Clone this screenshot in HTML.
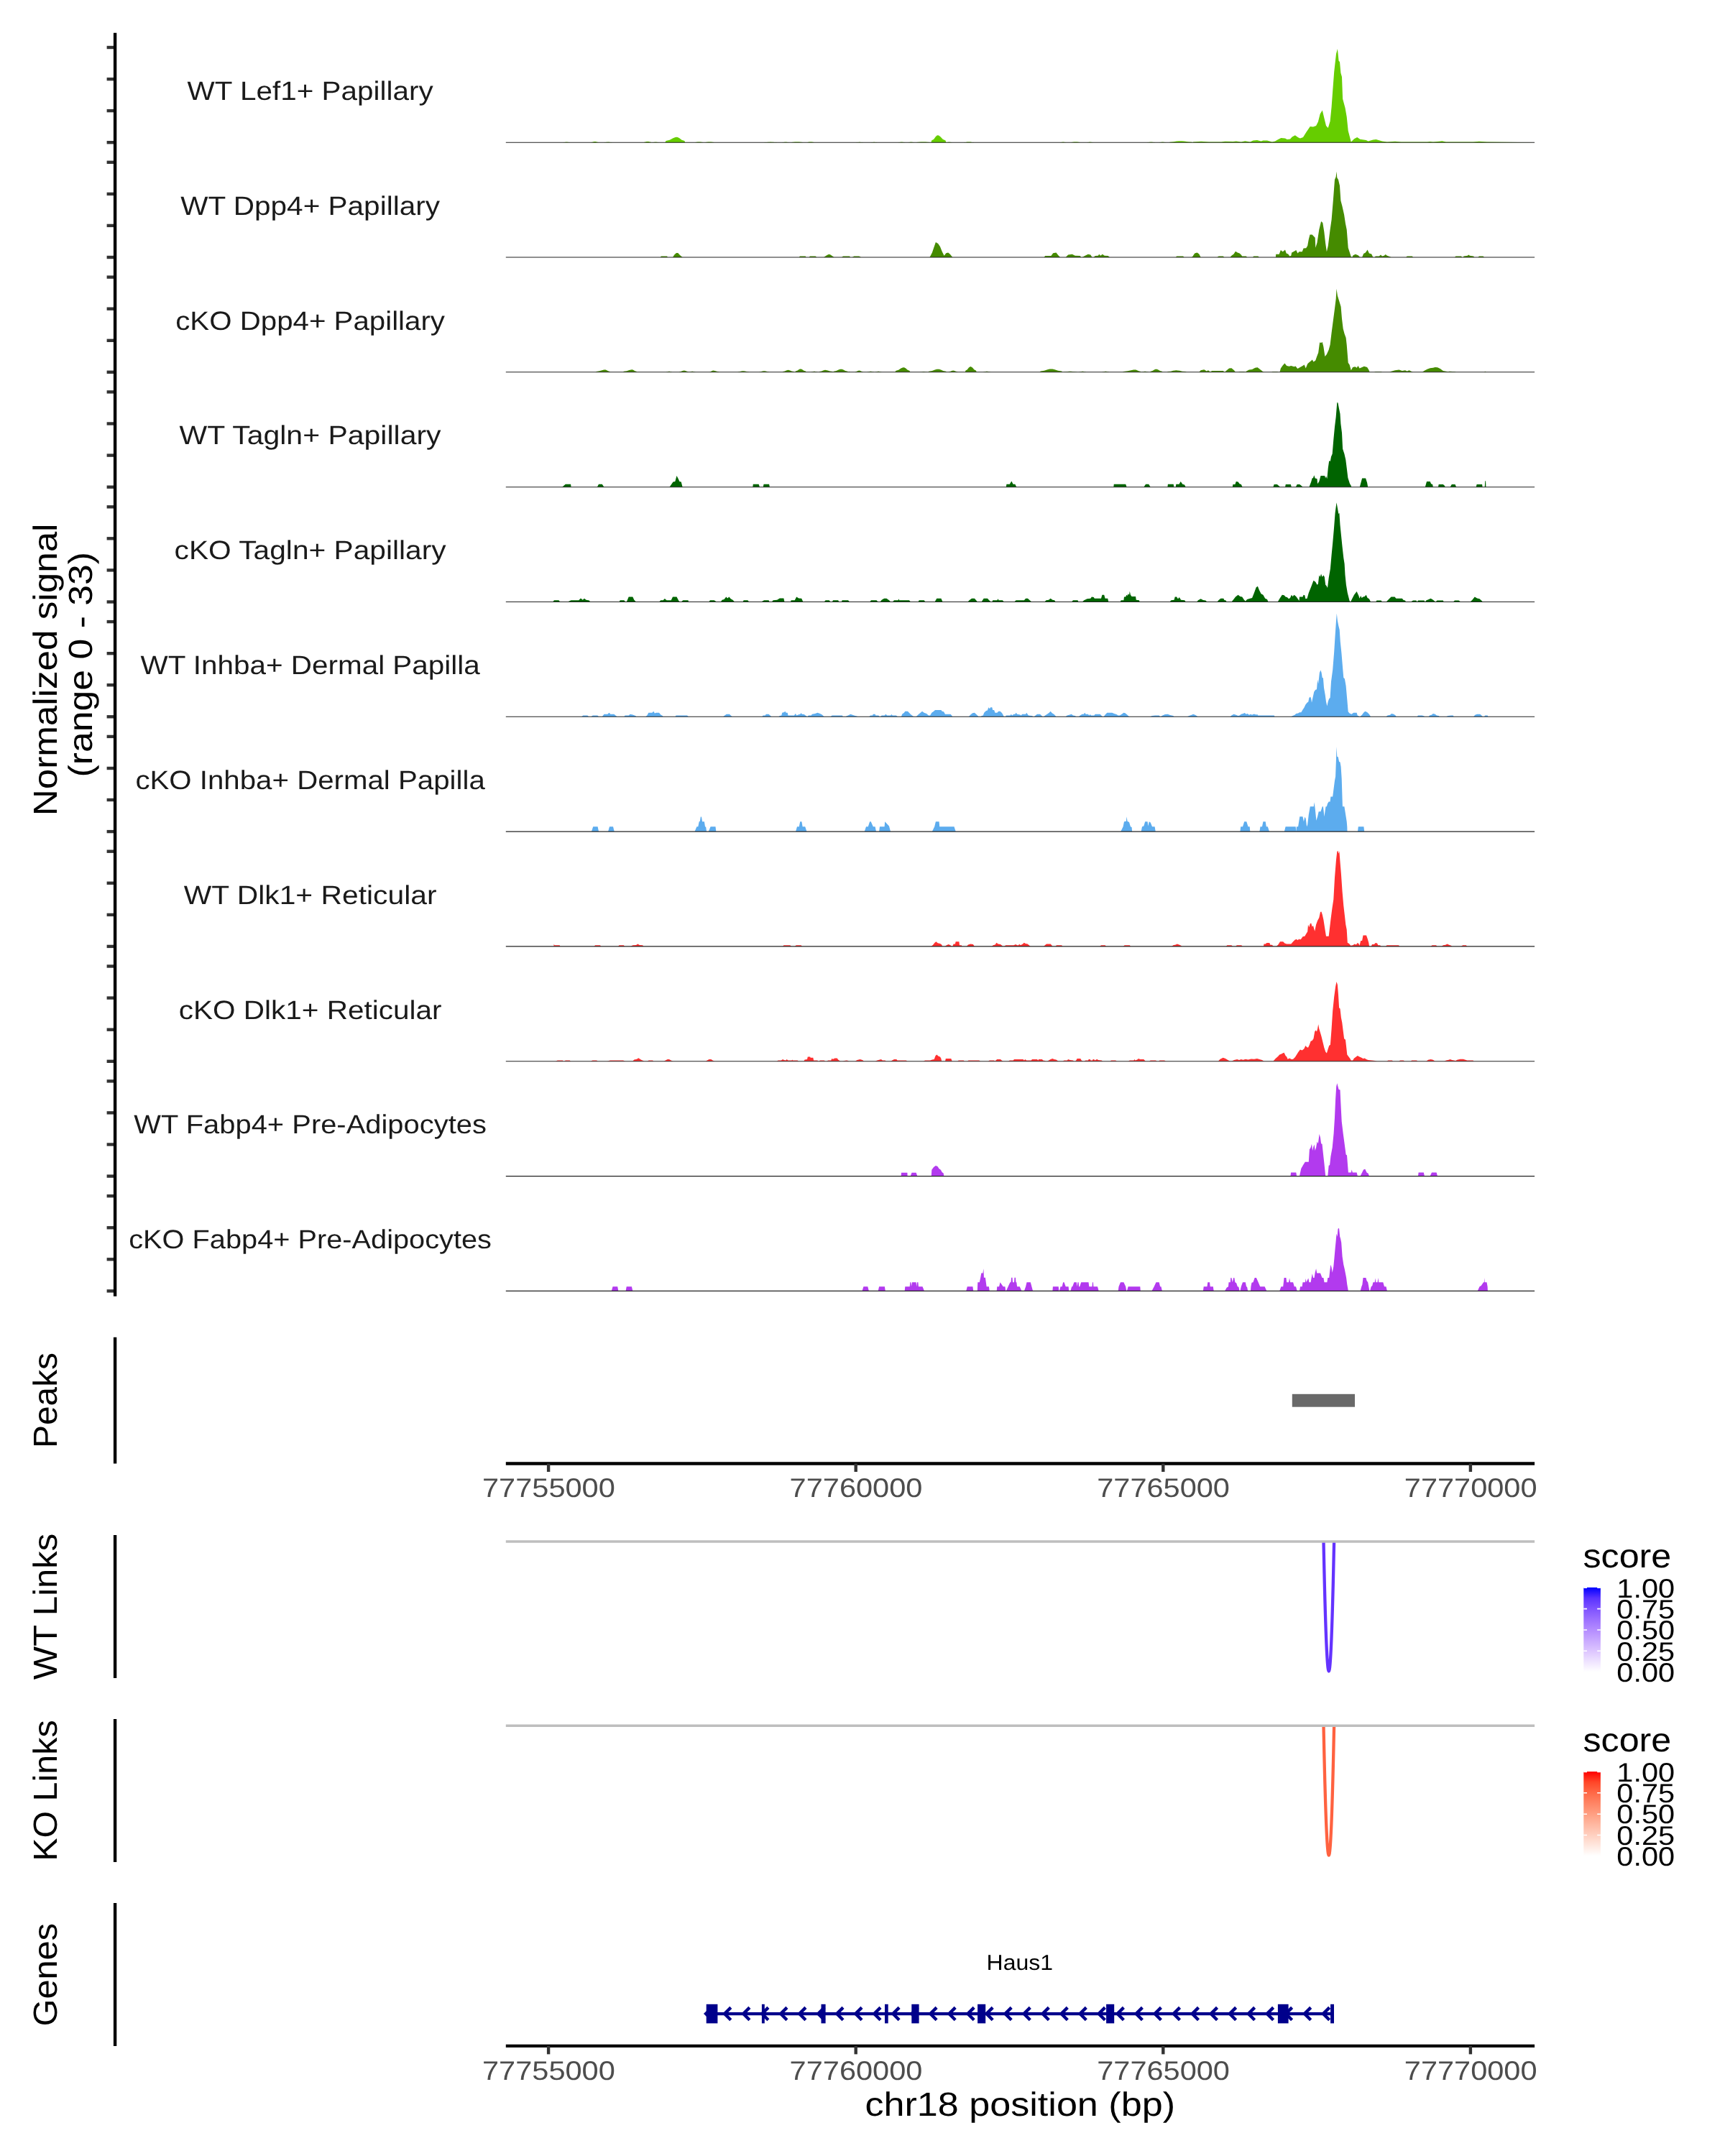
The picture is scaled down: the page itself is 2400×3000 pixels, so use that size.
<!DOCTYPE html>
<html><head><meta charset="utf-8"><title>Coverage plot</title>
<style>
html,body{margin:0;padding:0;background:#fff;}
svg{display:block;will-change:transform;}
text{font-family:"Liberation Sans",sans-serif;text-rendering:geometricPrecision;}
.ax{stroke:#000;stroke-width:4.4;fill:none;stroke-linecap:butt;}
.tk{stroke:#333;stroke-width:4.4;fill:none;}
.bl{stroke:#222;stroke-width:1.1;fill:none;}
</style></head><body>
<svg width="2400" height="3000" viewBox="0 0 2400 3000">
<rect width="2400" height="3000" fill="#fff"/>
<path d="M703.8,198.2L783.5,198.2L783.8,198.0L785.4,197.9L786.8,197.8L787.8,197.7L788.3,197.6L788.9,197.7L789.9,197.8L791.3,197.9L792.9,198.0L793.2,198.2L822.4,198.2L822.8,197.9L824.5,197.7L826.0,197.3L827.1,197.1L827.7,197.1L828.4,197.1L829.4,197.3L830.9,197.7L832.6,197.9L833.0,198.2L840.5,198.2L840.9,198.0L842.7,197.9L844.3,197.8L845.4,197.7L846.1,197.6L846.8,197.7L847.9,197.8L849.4,197.9L851.3,198.0L851.7,198.2L896.2,198.2L896.5,197.8L898.1,197.6L899.5,197.1L900.5,196.9L901.0,196.8L901.6,196.9L902.6,197.1L904.0,197.6L905.6,197.8L905.9,198.2L907.3,198.2L907.6,198.0L909.3,197.9L910.6,197.8L911.6,197.7L912.2,197.6L912.8,197.7L913.7,197.8L915.1,197.9L916.7,198.0L917.0,198.2L925.4,198.2L926.5,196.1L931.8,194.8L936.4,192.2L939.6,191.0L941.5,190.7L942.9,191.0L945.3,192.2L948.5,194.8L952.4,196.1L953.2,198.2L967.1,198.2L967.5,198.0L969.4,197.8L970.9,197.5L972.0,197.4L972.7,197.4L973.4,197.4L974.5,197.5L976.0,197.8L977.9,198.0L978.3,198.2L981.0,198.2L981.5,198.0L983.5,197.8L985.3,197.5L986.6,197.4L987.3,197.4L988.1,197.4L989.3,197.5L991.1,197.8L993.1,198.0L993.6,198.2L1063.1,198.2L1063.8,198.0L1066.7,197.9L1069.3,197.8L1071.1,197.7L1072.2,197.6L1073.3,197.7L1075.1,197.8L1077.6,197.9L1080.6,198.0L1081.2,198.2L1088.2,198.2L1088.5,198.0L1090.1,197.9L1091.5,197.8L1092.5,197.7L1093.0,197.6L1093.6,197.7L1094.6,197.8L1096.0,197.9L1097.6,198.0L1097.9,198.2L1100.7,198.2L1101.3,198.0L1104.0,197.8L1106.4,197.5L1108.0,197.4L1109.0,197.4L1110.0,197.4L1111.7,197.5L1114.1,197.8L1116.8,198.0L1117.4,198.2L1123.0,198.2L1123.3,198.0L1124.9,197.8L1126.3,197.5L1127.2,197.4L1127.8,197.4L1128.4,197.4L1129.4,197.5L1130.7,197.8L1132.4,198.0L1132.7,198.2L1191.1,198.2L1191.5,198.1L1193.1,198.0L1194.4,197.9L1195.4,197.8L1196.0,197.8L1196.6,197.8L1197.6,197.9L1198.9,198.0L1200.5,198.1L1200.9,198.2L1212.0,198.2L1212.3,198.1L1213.7,198.0L1214.8,197.9L1215.7,197.8L1216.2,197.8L1216.7,197.8L1217.5,197.9L1218.7,198.0L1220.1,198.1L1220.3,198.2L1249.6,198.2L1249.9,198.0L1251.5,197.9L1252.9,197.8L1253.9,197.7L1254.4,197.6L1255.0,197.7L1256.0,197.8L1257.4,197.9L1259.0,198.0L1259.3,198.2L1263.5,198.2L1263.8,198.0L1265.1,197.9L1266.3,197.8L1267.2,197.7L1267.7,197.6L1268.2,197.7L1269.0,197.8L1270.2,197.9L1271.5,198.0L1271.8,198.2L1274.6,198.2L1275.3,198.0L1278.5,197.8L1281.2,197.5L1283.2,197.4L1284.3,197.4L1285.5,197.4L1287.5,197.5L1290.2,197.8L1293.4,198.0L1294.1,198.2L1295.5,198.2L1296.1,195.4L1299.2,193.7L1301.7,190.2L1303.6,188.6L1304.7,188.2L1306.1,188.6L1308.4,190.2L1311.7,193.7L1315.5,195.4L1316.3,198.2L1316.6,198.2L1316.9,198.0L1318.2,197.9L1319.4,197.8L1320.2,197.7L1320.7,197.6L1321.1,197.7L1322.0,197.8L1323.1,197.9L1324.4,198.0L1324.7,198.2L1340.8,198.2L1341.3,198.0L1343.7,197.9L1345.8,197.6L1347.2,197.5L1348.1,197.5L1348.9,197.5L1350.4,197.6L1352.4,197.9L1354.8,198.0L1355.3,198.2L1475.0,198.2L1475.2,198.0L1476.6,197.9L1477.8,197.8L1478.6,197.7L1479.1,197.6L1479.6,197.7L1480.5,197.8L1481.6,197.9L1483.0,198.0L1483.3,198.2L1490.3,198.2L1490.7,198.0L1492.8,197.8L1494.5,197.5L1495.8,197.4L1496.5,197.4L1497.3,197.4L1498.5,197.5L1500.3,197.8L1502.3,198.0L1502.8,198.2L1512.5,198.2L1512.8,198.0L1514.2,197.9L1515.4,197.8L1516.2,197.7L1516.7,197.6L1517.2,197.7L1518.0,197.8L1519.2,197.9L1520.6,198.0L1520.9,198.2L1596.0,198.2L1596.4,198.0L1598.2,197.9L1599.8,197.8L1600.9,197.7L1601.6,197.6L1602.2,197.7L1603.3,197.8L1604.9,197.9L1606.7,198.0L1607.1,198.2L1612.7,198.2L1613.0,198.0L1614.6,197.9L1616.0,197.8L1617.0,197.7L1617.6,197.6L1618.1,197.7L1619.1,197.8L1620.5,197.9L1622.1,198.0L1622.4,198.2L1626.6,198.2L1627.7,197.7L1632.7,197.3L1637.0,196.6L1640.1,196.3L1641.9,196.3L1644.1,196.3L1647.6,196.6L1652.6,197.3L1658.5,197.7L1659.7,198.2L1660.0,197.4L1671.1,196.8L1682.3,197.6L1699.0,197.4L1704.5,196.8L1715.7,197.1L1719.8,196.5L1726.8,197.6L1732.3,196.3L1739.3,197.6L1743.5,195.4L1749.0,195.1L1754.6,196.5L1757.4,195.4L1763.0,195.4L1769.9,197.6L1774.1,196.5L1778.3,194.0L1782.4,192.1L1788.0,192.4L1790.8,194.0L1795.0,193.5L1797.7,190.4L1801.9,188.2L1806.1,191.2L1808.9,192.6L1813.0,191.0L1817.2,184.3L1822.8,175.9L1827.0,176.5L1831.1,175.1L1833.9,169.5L1836.7,158.4L1839.8,153.4L1842.3,164.0L1845.0,175.1L1847.8,177.9L1850.6,168.7L1852.6,148.7L1854.2,126.4L1856.2,100.0L1859.0,74.9L1860.9,68.0L1862.6,84.7L1864.0,86.1L1865.4,101.4L1867.0,106.9L1868.1,137.5L1871.5,150.1L1873.7,162.6L1875.7,182.1L1879.8,197.4L1884.0,193.2L1888.2,191.0L1892.3,193.7L1900.7,194.9L1903.5,196.5L1910.4,194.6L1914.6,194.0L1923.0,196.5L1929.9,197.4L1941.0,196.8L1949.4,197.6L1985.6,197.6L1989.7,197.1L1993.9,197.6L2002.3,196.8L2006.4,196.3L2012.0,197.6L2049.6,197.6L2057.9,196.8L2069.0,197.6L2134.4,198.2L2135.1,198.2Z" fill="#66CD00"/>
<line class="bl" x1="703.8" x2="2135.1" y1="198.2" y2="198.2"/>
<text x="431.60" y="138.99" font-size="36.79" fill="#1A1A1A" text-anchor="middle" textLength="342.14" lengthAdjust="spacingAndGlyphs">WT Lef1+ Papillary</text>
<line class="tk" x1="148.6" x2="160" y1="198.2" y2="198.2"/>
<line class="tk" x1="148.6" x2="160" y1="154.1" y2="154.1"/>
<line class="tk" x1="148.6" x2="160" y1="110.1" y2="110.1"/>
<line class="tk" x1="148.6" x2="160" y1="66.0" y2="66.0"/>
<path d="M703.8,358.0L919.0,358.0L919.8,356.4L928.2,356.4L928.7,358.0L936.0,358.0L938.2,354.4L941.0,351.9L943.2,351.9L946.0,355.0L949.6,358.0L1111.8,358.0L1112.9,356.4L1120.7,356.4L1121.6,358.0L1125.7,358.0L1126.9,356.4L1134.6,356.4L1136.3,358.0L1146.1,358.0L1149.4,355.8L1152.5,354.1L1154.7,354.1L1157.7,356.1L1160.5,358.0L1171.1,358.0L1173.0,356.4L1180.0,356.4L1180.0,356.4L1182.2,356.6L1182.8,358.0L1185.6,358.0L1188.3,356.4L1195.3,356.4L1198.1,358.0L1293.5,358.0L1296.9,351.6L1299.7,343.3L1301.9,336.9L1305.2,339.1L1308.0,343.3L1310.8,350.2L1313.6,355.8L1316.3,352.2L1319.1,351.6L1321.9,353.8L1325.3,358.0L1452.7,358.0L1454.1,356.1L1462.4,356.1L1465.2,352.2L1469.4,351.6L1472.2,355.0L1475.0,358.0L1482.7,358.0L1486.1,354.4L1491.7,353.8L1495.8,355.8L1502.8,356.1L1504.2,358.0L1505.6,358.0L1509.7,355.8L1513.9,353.8L1517.3,354.4L1519.5,358.0L1521.7,358.0L1523.7,356.1L1527.8,355.8L1529.2,353.8L1531.2,355.8L1533.9,353.8L1536.7,355.8L1541.7,356.1L1544.0,358.0L1635.8,358.0L1637.2,356.4L1646.1,356.4L1647.5,358.0L1658.1,358.0L1659.2,356.4L1660.0,356.4L1660.0,355.8L1662.2,352.5L1665.6,351.6L1668.3,353.6L1670.6,358.0L1693.4,358.0L1695.6,356.4L1701.7,356.4L1703.4,358.0L1711.5,358.0L1713.4,355.8L1716.5,353.6L1719.0,349.7L1721.8,351.6L1724.6,352.5L1726.8,354.4L1728.2,356.4L1733.7,356.4L1735.1,358.0L1742.9,358.0L1744.3,356.4L1750.4,356.4L1751.8,358.0L1774.9,358.0L1775.2,353.8L1779.7,353.8L1781.9,348.0L1784.7,350.2L1786.6,348.8L1788.0,347.4L1789.7,352.5L1792.2,353.6L1794.4,356.4L1796.3,355.8L1797.2,351.6L1800.5,349.7L1803.3,348.0L1805.5,352.5L1807.5,350.2L1811.7,350.2L1813.6,345.5L1817.2,345.2L1819.2,341.9L1820.8,333.0L1822.5,326.6L1825.6,326.6L1827.8,328.8L1829.7,330.8L1830.3,344.7L1832.5,337.7L1835.3,319.6L1838.1,307.9L1840.3,309.9L1842.3,322.4L1844.2,339.1L1845.9,350.2L1847.8,341.9L1850.6,319.6L1852.6,305.7L1854.8,279.3L1857.0,250.1L1858.7,245.9L1859.5,238.4L1860.3,247.3L1862.0,250.1L1864.0,258.4L1865.4,279.3L1867.3,286.2L1870.1,298.8L1872.0,311.3L1873.7,319.6L1875.7,344.7L1879.8,357.2L1881.2,358.0L1882.6,355.2L1885.9,353.8L1889.6,355.2L1892.3,358.0L1895.1,358.0L1897.1,353.0L1899.9,351.6L1902.6,347.4L1904.9,352.5L1908.2,353.6L1910.4,358.0L1912.7,358.0L1913.8,356.4L1918.8,356.4L1921.0,354.4L1923.0,356.4L1925.7,355.8L1927.7,354.1L1929.9,355.8L1934.1,357.2L1935.5,358.0L1956.3,358.0L1957.7,356.4L1964.7,356.4L1966.1,358.0L2024.0,358.0L2025.4,356.4L2032.9,356.4L2034.3,358.0L2035.7,358.0L2036.5,356.4L2041.8,355.8L2043.4,354.4L2044.8,355.8L2050.1,356.4L2051.2,358.0L2056.5,358.0L2057.9,356.4L2063.5,356.4L2064.9,358.0L2135.1,358.0Z" fill="#458B00"/>
<line class="bl" x1="703.8" x2="2135.1" y1="358.0" y2="358.0"/>
<text x="431.60" y="298.81" font-size="36.79" fill="#1A1A1A" text-anchor="middle" textLength="360.63" lengthAdjust="spacingAndGlyphs">WT Dpp4+ Papillary</text>
<line class="tk" x1="148.6" x2="160" y1="358.0" y2="358.0"/>
<line class="tk" x1="148.6" x2="160" y1="313.9" y2="313.9"/>
<line class="tk" x1="148.6" x2="160" y1="269.9" y2="269.9"/>
<line class="tk" x1="148.6" x2="160" y1="225.8" y2="225.8"/>
<path d="M703.8,517.8L828.6,517.8L829.5,516.9L833.9,516.3L837.6,515.2L840.3,514.6L841.9,514.5L842.7,514.6L844.1,515.2L846.1,516.3L848.4,516.9L848.9,517.8L867.0,517.8L867.8,516.8L872.0,516.2L875.5,514.9L878.0,514.4L879.5,514.2L880.2,514.4L881.5,514.9L883.3,516.2L885.4,516.8L885.9,517.8L926.8,517.8L927.1,517.5L928.5,517.3L929.6,516.9L930.5,516.8L931.0,516.7L931.5,516.8L932.3,516.9L933.5,517.3L934.8,517.5L935.1,517.8L944.9,517.8L945.4,517.2L947.7,516.8L949.6,516.1L951.0,515.7L951.8,515.6L952.6,515.7L953.9,516.1L955.7,516.8L957.8,517.2L958.2,517.8L958.8,517.8L959.1,517.5L960.6,517.3L961.8,516.9L962.7,516.8L963.2,516.7L963.8,516.8L964.7,516.9L965.9,517.3L967.4,517.5L967.7,517.8L987.4,517.8L987.8,517.2L989.3,516.8L990.7,516.1L991.6,515.7L992.2,515.6L993.2,515.7L994.8,516.1L997.2,516.8L999.9,517.2L1000.5,517.8L1026.1,517.8L1026.7,517.4L1029.2,517.1L1031.4,516.5L1033.0,516.2L1033.9,516.2L1034.9,516.2L1036.6,516.5L1038.9,517.1L1041.7,517.4L1042.3,517.8L1056.2,517.8L1056.7,517.4L1059.0,517.1L1060.9,516.5L1062.3,516.2L1063.1,516.2L1064.0,516.2L1065.4,516.5L1067.3,517.1L1069.6,517.4L1070.1,517.8L1088.7,517.8L1089.3,517.0L1091.8,516.5L1094.0,515.4L1095.6,514.9L1096.5,514.8L1097.5,514.9L1099.2,515.4L1101.5,516.5L1104.3,517.0L1104.9,517.8L1106.3,517.8L1106.8,516.6L1109.3,515.8L1111.4,514.3L1112.9,513.6L1113.8,513.4L1114.7,513.6L1116.3,514.3L1118.4,515.8L1121.0,516.6L1121.6,517.8L1128.5,517.8L1128.8,517.5L1130.3,517.3L1131.5,516.9L1132.4,516.8L1133.0,516.7L1133.5,516.8L1134.4,516.9L1135.6,517.3L1137.1,517.5L1137.4,517.8L1139.7,517.8L1140.2,517.0L1143.0,516.5L1145.3,515.4L1147.0,514.9L1148.0,514.8L1149.3,514.9L1151.6,515.4L1154.7,516.5L1158.4,517.0L1159.1,517.8L1159.1,517.8L1159.9,516.7L1163.6,516.0L1166.7,514.5L1168.9,513.8L1170.3,513.7L1171.4,513.8L1173.4,514.5L1176.1,516.0L1179.3,516.7L1180.0,517.8L1180.0,517.8L1180.1,517.6L1180.6,517.5L1180.9,517.2L1181.2,517.0L1181.4,517.0L1181.6,517.0L1181.8,517.2L1182.2,517.5L1182.7,517.6L1182.8,517.8L1189.7,517.8L1190.1,517.2L1192.0,516.8L1193.5,516.1L1194.6,515.7L1195.3,515.6L1196.0,515.7L1197.1,516.1L1198.6,516.8L1200.5,517.2L1200.9,517.8L1206.4,517.8L1206.8,517.5L1208.4,517.3L1209.7,516.9L1210.7,516.8L1211.3,516.7L1211.9,516.8L1212.9,516.9L1214.2,517.3L1215.8,517.5L1216.2,517.8L1217.6,517.8L1217.9,517.5L1219.4,517.3L1220.7,516.9L1221.6,516.8L1222.2,516.7L1222.7,516.8L1223.6,516.9L1224.9,517.3L1226.4,517.5L1226.7,517.8L1245.4,517.8L1246.2,516.0L1250.2,514.8L1253.5,512.5L1255.9,511.4L1257.4,511.2L1258.4,511.4L1260.2,512.5L1262.7,514.8L1265.6,516.0L1266.3,517.8L1280.2,517.8L1280.5,517.6L1282.1,517.5L1283.5,517.2L1284.5,517.0L1285.0,517.0L1285.6,517.0L1286.6,517.2L1288.0,517.5L1289.6,517.6L1289.9,517.8L1291.3,517.8L1292.3,516.7L1296.9,516.0L1300.8,514.5L1303.5,513.8L1305.2,513.7L1306.6,513.8L1309.0,514.5L1312.2,516.0L1316.1,516.7L1316.9,517.8L1320.0,517.8L1320.4,517.2L1322.4,516.8L1324.1,516.1L1325.4,515.7L1326.1,515.6L1326.9,515.7L1328.1,516.1L1329.9,516.8L1332.0,517.2L1332.5,517.8L1342.8,517.8L1343.3,515.7L1345.8,514.3L1347.9,511.6L1349.4,510.4L1350.3,510.0L1351.3,510.4L1353.0,511.6L1355.3,514.3L1358.1,515.7L1358.6,517.8L1367.8,517.8L1368.2,517.5L1369.9,517.3L1371.3,516.9L1372.4,516.8L1373.0,516.7L1373.6,516.8L1374.6,516.9L1376.1,517.3L1377.8,517.5L1378.1,517.8L1446.6,517.8L1447.7,516.6L1452.9,515.8L1457.4,514.3L1460.5,513.6L1462.4,513.4L1464.3,513.6L1467.5,514.3L1472.0,515.8L1477.2,516.6L1478.3,517.8L1479.1,517.8L1479.8,517.5L1483.0,517.3L1485.8,516.9L1487.7,516.8L1488.9,516.7L1490.0,516.8L1492.0,516.9L1494.7,517.3L1497.9,517.5L1498.6,517.8L1501.4,517.8L1501.7,517.5L1503.3,517.3L1504.7,516.9L1505.7,516.8L1506.3,516.7L1506.8,516.8L1507.8,516.9L1509.2,517.3L1510.8,517.5L1511.1,517.8L1533.4,517.8L1533.7,517.5L1535.3,517.3L1536.7,516.9L1537.7,516.8L1538.3,516.7L1538.8,516.8L1539.8,516.9L1541.2,517.3L1542.8,517.5L1543.1,517.8L1561.8,517.8L1563.0,516.9L1568.8,516.3L1573.7,515.2L1577.2,514.6L1579.3,514.5L1580.3,514.6L1582.0,515.2L1584.3,516.3L1587.1,516.9L1587.7,517.8L1588.2,517.8L1588.5,517.5L1590.2,517.3L1591.5,516.9L1592.5,516.8L1593.1,516.7L1593.7,516.8L1594.6,516.9L1596.0,517.3L1597.6,517.5L1597.9,517.8L1600.2,517.8L1600.8,516.7L1603.5,516.0L1605.9,514.5L1607.5,513.8L1608.5,513.7L1609.6,513.8L1611.4,514.5L1613.9,516.0L1616.8,516.7L1617.4,517.8L1623.8,517.8L1624.7,517.1L1628.8,516.7L1632.3,515.8L1634.8,515.4L1636.3,515.3L1638.1,515.4L1641.0,515.8L1645.0,516.7L1649.8,517.1L1650.8,517.8L1668.3,517.8L1670.6,515.3L1675.3,514.2L1678.9,516.4L1680.9,515.3L1683.7,517.3L1686.4,515.9L1701.7,515.9L1704.0,517.8L1705.9,515.9L1710.1,512.6L1713.4,512.3L1717.0,515.3L1719.0,517.8L1722.6,517.8L1725.4,517.0L1731.0,517.0L1732.9,517.8L1733.7,516.7L1737.9,514.5L1742.1,513.9L1746.3,511.7L1749.6,511.2L1753.2,513.9L1757.4,517.3L1758.8,517.8L1769.1,517.8L1770.7,517.0L1776.9,517.0L1779.1,517.8L1780.5,517.8L1781.9,512.6L1784.7,508.4L1787.4,505.6L1790.2,508.9L1793.6,509.8L1796.3,508.9L1800.5,510.3L1802.5,509.5L1805.3,513.1L1808.9,510.9L1812.5,508.9L1814.7,507.5L1816.7,512.6L1819.2,506.2L1821.4,504.2L1824.2,502.0L1825.8,500.6L1827.5,503.4L1830.3,501.4L1832.0,496.4L1834.2,490.8L1836.1,476.4L1838.1,476.9L1839.8,476.1L1841.4,482.5L1843.4,495.9L1845.9,493.1L1848.7,486.7L1850.6,479.7L1852.6,463.0L1854.8,446.3L1857.0,429.6L1858.7,415.7L1859.5,401.8L1860.9,411.5L1863.1,418.5L1865.6,426.8L1867.0,443.5L1868.7,457.5L1870.6,464.4L1872.6,470.0L1873.7,479.7L1875.7,504.8L1877.6,507.5L1879.8,515.3L1882.1,510.9L1885.4,510.3L1887.6,511.7L1889.6,508.9L1891.5,512.6L1895.1,510.9L1897.9,509.8L1902.1,510.9L1904.3,514.5L1905.7,517.8L1911.8,517.8L1913.8,517.0L1921.6,517.0L1923.0,517.8L1933.3,517.8L1935.5,516.7L1941.0,515.3L1946.6,514.5L1950.8,515.9L1955.0,515.3L1957.7,516.4L1960.5,515.3L1964.7,517.3L1966.1,517.8L1978.6,517.8L1981.4,515.9L1985.6,513.7L1989.7,512.3L1993.9,511.7L1996.7,510.9L2000.0,511.2L2003.7,513.1L2007.8,515.9L2014.8,517.3L2016.7,516.7L2024.5,517.3L2025.9,517.8L2064.9,517.8L2066.3,516.7L2067.7,517.8L2135.1,517.8Z" fill="#458B00"/>
<line class="bl" x1="703.8" x2="2135.1" y1="517.8" y2="517.8"/>
<text x="431.60" y="458.63" font-size="36.79" fill="#1A1A1A" text-anchor="middle" textLength="374.73" lengthAdjust="spacingAndGlyphs">cKO Dpp4+ Papillary</text>
<line class="tk" x1="148.6" x2="160" y1="517.8" y2="517.8"/>
<line class="tk" x1="148.6" x2="160" y1="473.8" y2="473.8"/>
<line class="tk" x1="148.6" x2="160" y1="429.7" y2="429.7"/>
<line class="tk" x1="148.6" x2="160" y1="385.6" y2="385.6"/>
<path d="M703.8,677.7L782.1,677.7L786.8,673.8L794.1,673.8L794.6,677.7L830.8,677.7L833.0,673.8L837.7,673.8L840.5,677.7L931.5,677.7L936.5,670.4L939.3,669.9L941.5,662.1L944.3,667.6L945.4,669.9L947.7,670.4L949.6,677.7L1047.3,677.7L1047.8,673.8L1055.6,673.8L1057.0,677.7L1061.7,677.7L1062.6,673.8L1070.1,673.8L1070.9,677.7L1399.8,677.7L1400.4,673.8L1404.8,673.8L1407.3,669.6L1409.6,673.8L1412.3,673.8L1414.3,677.7L1549.3,677.7L1549.8,673.8L1566.2,673.8L1567.6,677.7L1591.3,677.7L1594.1,673.8L1598.2,673.8L1600.7,677.7L1624.4,677.7L1624.9,673.8L1632.7,673.8L1633.3,677.7L1635.8,677.7L1636.3,673.8L1640.5,673.8L1642.7,669.9L1645.3,673.8L1648.0,674.6L1649.7,677.7L1714.8,677.7L1715.4,674.0L1718.4,674.0L1719.8,669.9L1722.6,670.4L1724.6,673.2L1726.8,674.0L1728.7,677.7L1771.3,677.7L1772.7,674.0L1776.9,674.0L1780.2,676.8L1781.0,677.7L1788.0,677.7L1788.8,674.0L1795.8,674.0L1796.9,677.7L1802.7,677.7L1804.7,674.0L1808.3,674.0L1811.7,676.8L1812.5,677.7L1821.4,677.7L1824.2,670.4L1825.6,665.4L1827.0,664.9L1828.3,661.2L1829.7,665.4L1832.5,666.3L1833.1,673.2L1835.3,669.9L1837.5,662.1L1843.1,662.1L1844.2,665.4L1845.0,662.6L1846.4,666.3L1847.8,650.9L1849.2,641.2L1850.9,641.8L1852.0,635.6L1853.7,631.5L1855.3,612.0L1857.0,593.9L1858.7,580.0L1860.3,560.0L1861.5,560.5L1863.1,568.9L1864.5,575.8L1865.4,589.7L1867.0,602.3L1868.1,624.5L1870.4,631.5L1872.3,639.8L1873.7,650.9L1875.4,664.9L1877.9,672.7L1879.8,676.0L1880.4,677.7L1891.8,677.7L1895.1,665.4L1900.1,665.4L1902.1,671.8L1903.2,677.7L1982.8,677.7L1985.0,669.9L1989.7,669.9L1991.1,673.2L1993.1,674.0L1993.9,677.7L2000.9,677.7L2001.7,674.0L2007.8,674.0L2010.1,676.0L2010.6,677.7L2017.6,677.7L2019.8,674.0L2024.5,674.0L2026.2,677.7L2053.7,677.7L2054.6,674.0L2062.1,674.0L2062.6,677.7L2065.7,677.7L2066.3,669.3L2067.1,669.3L2067.4,677.7L2135.1,677.7Z" fill="#006400"/>
<line class="bl" x1="703.8" x2="2135.1" y1="677.7" y2="677.7"/>
<text x="431.60" y="618.45" font-size="36.79" fill="#1A1A1A" text-anchor="middle" textLength="364.01" lengthAdjust="spacingAndGlyphs">WT Tagln+ Papillary</text>
<line class="tk" x1="148.6" x2="160" y1="677.7" y2="677.7"/>
<line class="tk" x1="148.6" x2="160" y1="633.6" y2="633.6"/>
<line class="tk" x1="148.6" x2="160" y1="589.5" y2="589.5"/>
<line class="tk" x1="148.6" x2="160" y1="545.4" y2="545.4"/>
<path d="M703.8,837.5L769.0,837.5L771.0,835.3L777.4,835.3L779.3,837.5L789.6,837.5L794.6,835.3L805.2,835.3L808.0,832.5L810.7,834.7L813.0,832.7L815.5,834.7L819.7,835.5L821.3,837.5L861.4,837.5L862.8,835.3L868.3,835.3L870.3,837.5L872.0,836.9L874.7,830.5L880.3,830.5L882.3,834.7L885.0,837.5L917.0,837.5L919.3,835.3L922.6,835.3L924.8,833.0L927.6,835.3L933.7,835.3L936.0,830.5L941.5,830.5L944.3,836.1L946.3,837.5L948.2,836.9L950.4,835.3L957.4,835.3L958.2,837.5L986.1,837.5L988.0,835.3L993.6,835.3L997.2,837.5L1002.7,837.5L1004.7,834.7L1007.5,834.1L1010.3,830.5L1012.2,832.5L1014.4,830.5L1016.7,833.3L1019.4,834.7L1022.2,837.5L1033.4,837.5L1034.7,835.3L1040.3,835.3L1042.3,837.5L1059.0,837.5L1063.1,835.3L1069.5,835.3L1070.6,837.5L1073.7,837.5L1075.7,835.3L1081.2,834.7L1084.8,832.5L1090.4,832.5L1091.5,837.5L1099.9,837.5L1100.7,835.3L1105.7,835.3L1108.2,830.5L1111.3,832.5L1115.2,832.7L1117.4,837.5L1146.6,837.5L1148.6,835.3L1153.6,835.3L1155.5,837.5L1157.7,837.5L1159.1,835.3L1166.1,835.3L1167.5,837.5L1170.8,837.5L1171.7,835.3L1180.0,835.3L1180.0,835.3L1182.2,837.5L1210.1,837.5L1212.0,835.3L1219.5,835.3L1221.7,837.5L1224.5,837.5L1226.7,834.7L1230.1,832.7L1233.4,832.7L1237.0,835.3L1239.3,837.5L1241.8,837.5L1244.0,835.3L1249.6,835.3L1250.4,833.3L1251.2,835.3L1264.9,835.3L1267.1,837.5L1277.4,837.5L1278.8,835.3L1285.7,835.3L1287.4,837.5L1300.5,837.5L1303.3,832.7L1309.4,832.7L1311.6,837.5L1346.4,837.5L1348.6,835.3L1352.0,832.7L1355.9,832.7L1358.1,835.3L1360.0,837.5L1365.6,837.5L1367.0,835.3L1368.7,832.7L1373.9,832.7L1376.2,835.3L1378.7,837.5L1380.3,837.5L1381.2,835.3L1387.3,835.3L1388.7,833.3L1389.5,835.3L1394.8,835.3L1397.0,837.5L1411.0,837.5L1413.7,835.3L1424.9,835.3L1427.1,832.7L1429.9,832.7L1432.7,835.3L1435.4,837.5L1453.3,837.5L1455.5,835.3L1459.1,834.7L1461.6,832.7L1464.4,834.7L1467.2,835.3L1468.6,837.5L1490.8,837.5L1493.0,835.3L1499.4,835.3L1500.6,837.5L1505.6,837.5L1508.3,835.3L1512.5,833.3L1517.3,832.7L1518.9,830.5L1521.7,831.1L1522.8,832.7L1532.0,832.7L1533.4,827.7L1536.2,827.7L1537.6,832.7L1541.2,832.7L1542.3,837.5L1558.4,837.5L1559.8,835.3L1563.4,835.3L1564.0,830.5L1566.2,830.5L1567.3,827.7L1568.5,829.1L1569.6,826.3L1571.0,827.7L1571.8,822.7L1572.9,827.7L1574.6,830.0L1580.1,830.0L1580.7,834.7L1584.9,835.3L1585.7,837.5L1627.4,837.5L1629.4,835.3L1633.6,834.7L1634.7,830.5L1637.2,830.5L1638.3,832.7L1639.7,832.7L1640.5,831.1L1641.9,832.7L1643.0,834.7L1648.3,835.3L1649.7,837.5L1665.0,837.5L1667.0,835.3L1670.6,833.3L1673.9,835.0L1677.3,835.5L1679.5,837.5L1693.4,837.5L1695.6,835.0L1698.4,832.7L1702.3,832.7L1703.4,835.0L1705.6,835.5L1706.7,837.5L1713.4,837.5L1715.7,834.7L1719.0,830.5L1722.6,827.7L1725.4,830.0L1728.2,830.5L1731.0,834.7L1732.9,836.6L1735.1,833.9L1739.3,832.7L1742.1,831.9L1744.9,825.0L1747.7,817.2L1749.9,815.8L1751.8,820.8L1754.6,826.3L1757.4,827.7L1760.2,832.7L1763.0,834.1L1764.6,837.5L1777.7,837.5L1780.2,833.3L1783.8,827.7L1786.6,828.3L1788.6,830.5L1790.8,831.1L1793.0,833.3L1795.0,831.9L1796.9,827.7L1798.6,830.0L1800.5,827.7L1803.3,830.0L1805.3,832.7L1807.5,836.1L1808.0,830.5L1812.5,830.5L1813.6,827.7L1815.3,828.3L1816.4,833.3L1818.6,832.7L1820.8,825.0L1824.2,816.6L1827.5,807.7L1830.3,809.7L1832.5,813.8L1833.9,812.4L1835.3,800.5L1836.7,802.7L1838.1,798.5L1839.5,802.7L1841.4,800.5L1842.8,802.7L1844.2,813.8L1845.6,815.2L1847.0,818.0L1848.7,804.1L1850.9,791.6L1852.6,772.1L1854.2,755.4L1855.9,735.9L1857.6,713.7L1859.5,699.2L1860.9,706.7L1862.3,715.0L1863.4,713.7L1864.5,730.3L1865.9,744.3L1867.6,761.0L1869.3,776.3L1870.6,784.6L1871.5,799.9L1872.9,813.8L1874.8,825.0L1877.6,836.1L1879.0,837.5L1880.4,834.7L1884.0,827.7L1887.6,823.0L1890.4,829.1L1891.5,832.7L1893.2,829.1L1894.6,831.9L1896.5,830.5L1898.7,830.0L1900.7,827.7L1902.6,831.9L1904.9,833.3L1907.1,837.5L1914.1,837.5L1915.4,835.5L1921.6,835.5L1923.0,837.5L1928.5,837.5L1931.3,834.7L1935.5,830.5L1940.5,830.5L1942.4,832.7L1950.8,832.7L1952.7,835.0L1955.0,835.5L1956.1,837.5L1962.7,837.5L1966.1,835.5L1970.3,835.5L1971.7,837.5L1973.0,835.5L1981.4,835.5L1982.8,837.5L1984.2,835.5L1987.8,833.9L1990.6,832.7L1993.9,834.7L1997.3,837.5L1999.5,835.5L2007.8,835.5L2008.7,837.5L2021.7,837.5L2024.0,835.5L2029.5,835.5L2032.3,837.5L2045.4,837.5L2048.2,835.0L2051.8,830.5L2055.1,832.5L2058.5,833.3L2062.1,836.6L2062.9,837.5L2135.1,837.5Z" fill="#006400"/>
<line class="bl" x1="703.8" x2="2135.1" y1="837.5" y2="837.5"/>
<text x="431.60" y="778.27" font-size="36.79" fill="#1A1A1A" text-anchor="middle" textLength="378.12" lengthAdjust="spacingAndGlyphs">cKO Tagln+ Papillary</text>
<line class="tk" x1="148.6" x2="160" y1="837.5" y2="837.5"/>
<line class="tk" x1="148.6" x2="160" y1="793.4" y2="793.4"/>
<line class="tk" x1="148.6" x2="160" y1="749.3" y2="749.3"/>
<line class="tk" x1="148.6" x2="160" y1="705.3" y2="705.3"/>
<path d="M703.8,997.3L809.1,997.3L811.3,995.4L817.4,995.4L819.1,997.3L822.4,997.3L824.7,995.4L831.3,995.4L833.0,997.3L837.7,997.3L840.5,993.7L845.3,993.7L847.5,991.7L849.4,993.7L854.4,993.7L856.4,995.4L858.6,997.3L868.3,997.3L869.7,995.4L874.7,995.4L876.7,993.7L880.3,994.5L884.2,995.9L885.3,997.3L898.1,997.3L900.3,995.4L902.3,991.7L907.3,991.7L909.3,989.8L910.9,992.6L912.9,991.7L917.0,991.7L919.3,994.5L921.8,995.9L922.6,997.3L939.3,997.3L940.7,995.4L956.0,995.4L957.9,997.3L1006.1,997.3L1008.3,995.4L1010.8,993.7L1015.0,993.7L1017.2,995.9L1018.9,997.3L1060.3,997.3L1061.7,995.4L1064.5,995.4L1065.9,993.7L1069.5,993.7L1071.5,995.4L1073.4,997.3L1083.4,997.3L1084.8,995.9L1087.3,995.4L1088.2,991.7L1091.0,990.9L1092.3,989.8L1093.7,991.7L1095.7,991.7L1096.5,995.4L1104.9,995.4L1106.8,993.1L1108.5,995.4L1110.4,994.5L1113.2,993.7L1114.6,992.3L1116.0,993.7L1118.8,994.0L1120.7,995.4L1123.0,997.3L1123.5,997.3L1124.9,995.4L1128.5,995.4L1129.9,993.7L1134.1,993.1L1137.4,991.7L1141.0,993.1L1143.8,994.5L1146.6,997.3L1155.5,997.3L1157.7,995.4L1171.7,995.4L1173.0,997.3L1176.4,997.3L1178.6,995.9L1180.0,995.4L1180.0,995.4L1183.3,993.7L1188.3,995.4L1192.5,996.7L1193.4,997.3L1209.2,997.3L1211.2,995.4L1213.9,995.4L1214.8,993.7L1217.6,993.7L1218.4,995.4L1222.3,995.4L1223.7,997.3L1225.1,997.3L1226.7,995.4L1230.6,995.4L1232.3,993.7L1234.3,995.4L1239.0,995.4L1240.4,994.0L1241.8,995.4L1246.8,995.4L1249.0,997.3L1254.0,997.3L1255.1,993.7L1257.9,991.7L1259.3,989.8L1262.9,989.8L1264.9,991.7L1266.8,993.7L1269.0,995.4L1271.3,997.3L1274.6,997.3L1277.9,994.0L1280.7,991.7L1283.0,989.8L1285.7,991.7L1289.1,993.1L1291.9,995.4L1294.1,995.4L1296.3,991.7L1299.1,989.8L1301.0,988.1L1309.4,988.1L1310.8,989.8L1313.0,990.3L1315.0,993.7L1322.5,993.7L1324.1,995.4L1325.3,997.3L1347.8,997.3L1350.3,994.5L1353.1,992.3L1355.9,991.7L1358.1,993.7L1360.9,996.5L1361.4,997.3L1364.5,997.3L1365.9,995.9L1367.8,995.4L1369.2,991.7L1372.0,989.0L1373.9,988.4L1375.3,984.2L1377.0,986.2L1378.1,984.2L1380.3,984.2L1381.2,988.1L1383.1,988.1L1384.5,991.7L1387.3,991.7L1389.3,989.8L1391.5,989.8L1393.7,991.7L1395.1,993.7L1396.5,996.7L1397.0,997.3L1399.0,997.3L1399.8,995.4L1405.4,995.4L1406.8,993.7L1408.2,995.4L1410.4,993.7L1412.3,993.7L1413.7,991.7L1415.1,993.7L1419.3,994.5L1420.7,995.4L1422.1,993.7L1427.1,993.7L1428.2,991.7L1429.6,993.7L1431.0,995.4L1436.0,995.9L1437.4,997.3L1438.8,997.3L1440.7,995.4L1443.0,993.7L1447.1,993.7L1449.4,995.9L1450.7,997.3L1452.1,997.3L1454.1,995.4L1456.9,993.7L1459.7,991.7L1461.6,989.8L1463.8,992.3L1466.6,994.0L1468.8,996.5L1469.4,997.3L1482.5,997.3L1484.7,995.4L1488.3,994.5L1490.8,993.7L1493.0,995.4L1495.8,995.9L1497.2,997.3L1500.8,997.3L1502.8,995.4L1505.6,993.7L1507.8,993.7L1509.2,991.7L1510.6,993.7L1513.9,993.7L1515.3,995.4L1516.7,994.0L1518.1,995.4L1522.3,995.4L1523.7,993.7L1530.6,993.7L1532.8,995.9L1533.9,997.3L1535.6,997.3L1537.6,994.5L1540.3,991.7L1547.3,991.7L1550.1,993.1L1553.4,994.0L1555.7,995.4L1557.9,995.4L1560.7,993.7L1563.4,991.7L1565.4,992.3L1568.2,994.5L1571.0,997.3L1600.2,997.3L1603.0,995.9L1607.1,995.4L1612.7,995.4L1614.1,997.3L1614.9,997.3L1617.4,995.4L1621.0,994.0L1624.7,993.7L1628.0,995.1L1632.2,995.9L1633.6,997.3L1651.7,997.3L1654.4,995.9L1658.6,994.5L1660.0,993.7L1660.0,993.7L1662.8,994.8L1665.6,996.5L1666.1,997.3L1711.5,997.3L1713.4,995.4L1716.5,993.7L1719.8,994.8L1722.6,995.9L1724.6,995.4L1726.8,993.7L1729.6,993.1L1731.8,992.0L1733.7,993.7L1735.7,993.1L1737.9,994.8L1740.1,993.7L1742.1,994.8L1743.5,993.7L1746.3,993.7L1747.7,994.8L1749.0,993.7L1750.4,995.4L1772.7,995.4L1773.5,997.3L1796.3,997.3L1798.6,995.9L1801.4,994.8L1803.3,993.1L1806.1,992.6L1808.0,991.2L1810.3,991.2L1812.5,987.6L1814.4,984.8L1816.4,980.6L1818.6,977.8L1820.3,976.4L1821.4,970.9L1823.1,969.5L1824.2,972.3L1825.0,977.8L1826.4,970.9L1828.3,962.5L1830.3,959.7L1832.0,959.2L1833.1,945.8L1834.2,951.4L1835.9,936.1L1837.5,932.5L1838.6,936.1L1839.8,943.6L1840.9,943.0L1842.0,957.0L1843.7,966.7L1845.0,976.4L1846.4,982.6L1847.8,975.9L1849.2,972.3L1850.6,970.9L1852.0,948.6L1854.2,931.9L1856.2,906.9L1857.6,884.6L1859.0,863.7L1859.8,853.4L1860.9,863.7L1862.3,870.7L1863.7,876.3L1864.8,893.0L1866.5,909.6L1868.1,929.1L1869.3,943.0L1870.9,944.4L1872.6,954.2L1874.3,973.6L1875.7,990.3L1877.6,992.6L1880.4,993.7L1883.2,991.7L1887.6,991.7L1888.7,995.4L1890.4,996.5L1891.5,997.3L1892.3,997.3L1895.1,994.5L1897.1,991.7L1899.3,989.8L1902.1,990.9L1904.9,993.7L1907.1,997.3L1928.5,997.3L1930.5,995.4L1934.1,994.8L1936.0,993.1L1939.1,993.7L1941.6,995.4L1942.7,997.3L1971.7,997.3L1973.0,995.4L1978.6,995.4L1981.4,996.5L1982.2,997.3L1987.8,997.3L1988.9,995.4L1991.7,994.8L1993.9,993.1L1996.7,993.7L1998.9,995.4L2001.7,995.9L2002.8,997.3L2012.0,997.3L2014.8,995.9L2019.0,995.4L2021.7,995.4L2022.6,997.3L2050.1,997.3L2052.3,994.8L2055.1,993.7L2059.3,993.7L2061.3,995.4L2062.9,997.3L2064.9,997.3L2066.3,995.4L2069.6,995.4L2070.4,997.3L2135.1,997.3Z" fill="#5CACEE"/>
<line class="bl" x1="703.8" x2="2135.1" y1="997.3" y2="997.3"/>
<text x="431.60" y="938.09" font-size="36.79" fill="#1A1A1A" text-anchor="middle" textLength="472.25" lengthAdjust="spacingAndGlyphs">WT Inhba+ Dermal Papilla</text>
<line class="tk" x1="148.6" x2="160" y1="997.3" y2="997.3"/>
<line class="tk" x1="148.6" x2="160" y1="953.2" y2="953.2"/>
<line class="tk" x1="148.6" x2="160" y1="909.2" y2="909.2"/>
<line class="tk" x1="148.6" x2="160" y1="865.1" y2="865.1"/>
<path d="M703.8,1157.1L823.0,1157.1L825.2,1150.2L831.6,1150.2L833.0,1157.1L846.1,1157.1L848.0,1150.2L853.0,1150.2L854.7,1157.1L966.6,1157.1L969.4,1150.2L971.3,1150.2L972.7,1143.2L973.8,1142.7L974.9,1136.3L976.0,1136.8L977.1,1143.2L979.9,1143.2L981.0,1150.2L982.2,1150.7L983.0,1157.1L985.8,1157.1L988.6,1150.2L995.5,1150.2L996.3,1157.1L1107.1,1157.1L1109.0,1150.2L1111.8,1150.2L1113.2,1143.2L1115.4,1143.2L1116.6,1150.2L1120.2,1150.2L1122.4,1157.1L1202.8,1157.1L1205.0,1150.2L1207.8,1150.2L1210.1,1143.2L1211.7,1143.2L1214.8,1150.2L1217.6,1150.2L1219.0,1157.1L1223.1,1157.1L1224.0,1150.2L1230.6,1150.2L1231.2,1143.2L1237.0,1149.6L1239.0,1157.1L1296.9,1157.1L1300.2,1150.2L1301.9,1143.2L1306.6,1143.2L1307.2,1150.2L1327.5,1150.2L1329.7,1157.1L1559.3,1157.1L1562.6,1150.2L1564.0,1143.2L1566.8,1142.7L1567.6,1136.3L1568.5,1142.7L1571.0,1144.0L1572.9,1150.2L1574.6,1151.0L1575.1,1157.1L1587.7,1157.1L1589.0,1150.2L1591.3,1149.6L1593.2,1143.2L1596.6,1143.2L1597.4,1149.6L1598.8,1143.2L1600.7,1144.6L1603.0,1150.2L1606.6,1150.2L1607.7,1157.1L1725.4,1157.1L1726.2,1150.2L1729.0,1150.2L1731.2,1143.2L1734.3,1143.2L1736.5,1150.2L1738.7,1150.2L1739.3,1157.1L1752.4,1157.1L1753.5,1150.2L1756.0,1150.2L1757.4,1143.2L1760.7,1143.2L1761.8,1150.2L1763.8,1150.2L1766.0,1157.1L1786.9,1157.1L1788.6,1150.2L1802.7,1150.2L1803.3,1157.1L1803.9,1150.2L1806.1,1150.2L1808.3,1136.3L1812.5,1136.3L1813.9,1143.2L1815.3,1136.8L1816.7,1139.0L1818.1,1150.2L1819.2,1147.4L1820.8,1133.5L1822.8,1122.3L1827.8,1122.3L1828.6,1116.2L1829.7,1125.1L1831.4,1141.8L1833.1,1136.3L1834.7,1129.3L1837.5,1129.3L1839.8,1122.3L1840.9,1122.3L1842.5,1136.3L1844.5,1122.3L1845.9,1122.3L1847.0,1118.2L1848.7,1115.4L1850.6,1115.4L1851.4,1108.4L1854.2,1108.4L1855.6,1097.3L1857.0,1086.2L1858.1,1080.6L1859.0,1055.6L1859.5,1038.9L1860.3,1052.8L1861.7,1053.3L1863.1,1059.7L1864.5,1060.6L1865.6,1066.7L1866.7,1083.4L1867.9,1122.3L1870.4,1122.3L1871.5,1129.3L1872.6,1136.3L1873.7,1143.2L1874.3,1150.2L1874.5,1157.1L1889.0,1157.1L1889.8,1150.2L1897.4,1150.2L1898.2,1157.1L2135.1,1157.1Z" fill="#5CACEE"/>
<line class="bl" x1="703.8" x2="2135.1" y1="1157.1" y2="1157.1"/>
<text x="431.60" y="1097.91" font-size="36.79" fill="#1A1A1A" text-anchor="middle" textLength="486.36" lengthAdjust="spacingAndGlyphs">cKO Inhba+ Dermal Papilla</text>
<line class="tk" x1="148.6" x2="160" y1="1157.1" y2="1157.1"/>
<line class="tk" x1="148.6" x2="160" y1="1113.0" y2="1113.0"/>
<line class="tk" x1="148.6" x2="160" y1="1069.0" y2="1069.0"/>
<line class="tk" x1="148.6" x2="160" y1="1024.9" y2="1024.9"/>
<path d="M703.8,1316.9L770.4,1316.9L770.7,1313.6L771.5,1315.3L778.7,1315.3L779.3,1316.9L826.6,1316.9L828.0,1315.3L835.0,1315.3L836.3,1316.9L860.0,1316.9L861.4,1315.3L867.8,1315.3L869.2,1316.9L877.5,1316.9L880.3,1315.3L885.0,1315.0L887.3,1313.6L889.8,1315.0L894.2,1315.3L895.3,1316.9L1089.0,1316.9L1090.4,1315.3L1099.3,1315.3L1101.3,1316.9L1105.7,1316.9L1107.7,1315.3L1114.6,1315.3L1116.0,1316.9L1295.5,1316.9L1298.3,1314.4L1300.5,1311.7L1302.4,1310.3L1304.7,1312.2L1308.0,1313.0L1310.2,1314.4L1311.3,1316.9L1314.4,1316.9L1316.9,1315.3L1319.7,1313.9L1322.5,1315.3L1324.1,1316.9L1325.3,1316.9L1326.6,1313.6L1328.9,1313.6L1329.7,1310.3L1334.4,1310.3L1335.0,1315.3L1337.8,1315.3L1338.6,1316.9L1344.7,1316.9L1347.0,1314.4L1350.3,1313.6L1353.9,1313.9L1355.9,1316.9L1379.8,1316.9L1381.7,1315.3L1384.5,1314.4L1386.5,1311.7L1388.7,1313.6L1392.0,1313.9L1394.3,1315.8L1395.1,1316.9L1397.0,1316.9L1399.3,1315.3L1410.4,1315.3L1413.2,1313.9L1415.1,1315.3L1417.1,1315.3L1418.2,1313.6L1419.3,1315.0L1421.5,1314.4L1423.5,1313.0L1424.9,1311.7L1426.8,1313.0L1429.6,1313.6L1431.8,1315.3L1433.8,1316.9L1451.9,1316.9L1454.1,1315.0L1456.0,1313.6L1461.6,1313.6L1463.3,1315.3L1464.4,1316.9L1468.6,1316.9L1469.9,1315.3L1477.2,1315.3L1478.3,1316.9L1530.1,1316.9L1532.0,1315.3L1537.6,1315.3L1539.0,1316.9L1562.6,1316.9L1564.6,1315.3L1571.8,1315.3L1573.2,1316.9L1630.2,1316.9L1632.2,1315.3L1635.8,1314.4L1637.7,1313.6L1640.5,1314.4L1643.3,1315.8L1644.1,1316.9L1705.9,1316.9L1707.3,1315.3L1713.4,1315.3L1715.1,1316.9L1719.3,1316.9L1720.7,1315.3L1727.3,1315.3L1728.7,1316.9L1757.9,1316.9L1758.5,1313.6L1760.7,1313.6L1762.4,1311.9L1766.3,1311.9L1767.4,1314.7L1769.9,1314.7L1771.9,1316.9L1775.5,1316.9L1778.3,1314.4L1781.0,1310.3L1785.2,1310.3L1787.4,1312.5L1790.2,1313.6L1796.3,1313.6L1799.1,1310.3L1801.9,1307.5L1804.1,1306.9L1805.5,1308.3L1807.5,1306.6L1808.9,1307.5L1810.3,1306.6L1812.5,1303.3L1815.3,1302.7L1817.5,1299.1L1819.2,1296.3L1820.0,1286.6L1821.4,1290.2L1822.8,1285.2L1824.2,1284.4L1825.6,1289.4L1827.0,1288.0L1829.2,1295.8L1831.1,1286.6L1833.1,1281.0L1835.3,1276.9L1837.0,1269.1L1838.4,1268.5L1839.8,1272.7L1841.4,1279.7L1843.1,1290.8L1845.0,1302.7L1848.7,1302.7L1849.8,1293.6L1851.4,1279.7L1853.4,1264.3L1855.3,1251.8L1857.0,1221.2L1859.0,1196.2L1860.3,1185.0L1861.5,1183.7L1862.3,1187.8L1863.4,1184.5L1864.5,1199.0L1865.9,1215.7L1867.6,1240.7L1869.3,1260.2L1870.9,1274.1L1872.3,1286.6L1873.7,1293.6L1874.8,1311.7L1877.0,1313.0L1879.3,1315.8L1882.1,1315.3L1884.8,1313.6L1886.8,1314.4L1888.7,1311.9L1890.4,1313.0L1891.5,1315.8L1893.2,1308.9L1895.1,1308.9L1896.5,1301.4L1901.0,1301.4L1902.6,1306.1L1904.3,1311.7L1905.1,1316.9L1907.7,1316.9L1909.0,1313.9L1911.8,1313.9L1913.8,1311.9L1916.0,1312.5L1917.4,1315.3L1920.2,1315.3L1921.6,1316.9L1928.0,1316.9L1929.4,1315.3L1946.1,1315.3L1947.2,1316.9L1990.6,1316.9L1992.5,1315.3L1998.1,1315.3L1999.5,1316.9L2005.6,1316.9L2007.8,1315.3L2011.2,1314.7L2013.4,1313.6L2016.2,1314.7L2019.0,1315.8L2020.3,1316.9L2032.9,1316.9L2035.1,1315.3L2039.8,1315.3L2041.2,1316.9L2135.1,1316.9Z" fill="#FF3030"/>
<line class="bl" x1="703.8" x2="2135.1" y1="1316.9" y2="1316.9"/>
<text x="431.60" y="1257.73" font-size="36.79" fill="#1A1A1A" text-anchor="middle" textLength="351.76" lengthAdjust="spacingAndGlyphs">WT Dlk1+ Reticular</text>
<line class="tk" x1="148.6" x2="160" y1="1316.9" y2="1316.9"/>
<line class="tk" x1="148.6" x2="160" y1="1272.9" y2="1272.9"/>
<line class="tk" x1="148.6" x2="160" y1="1228.8" y2="1228.8"/>
<line class="tk" x1="148.6" x2="160" y1="1184.7" y2="1184.7"/>
<path d="M703.8,1476.8L772.9,1476.8L775.7,1475.4L782.9,1475.4L784.0,1476.8L784.9,1476.8L786.8,1475.4L792.7,1475.4L794.1,1476.8L821.6,1476.8L824.4,1475.4L830.2,1475.4L831.6,1476.8L844.7,1476.8L848.9,1475.4L867.0,1475.4L870.3,1476.8L880.0,1476.8L882.3,1474.5L885.9,1473.7L888.4,1472.3L890.6,1473.7L892.6,1475.1L895.3,1475.9L896.2,1476.8L900.3,1476.8L902.6,1475.4L908.1,1475.4L909.3,1476.8L923.4,1476.8L925.9,1475.4L928.7,1474.0L931.0,1474.0L933.7,1475.4L936.5,1476.8L981.6,1476.8L983.8,1475.4L986.6,1474.0L989.4,1474.0L991.6,1475.4L994.4,1476.8L1080.7,1476.8L1082.6,1475.4L1086.8,1475.4L1089.0,1474.0L1091.0,1475.1L1093.2,1475.4L1094.6,1474.0L1096.5,1475.4L1101.5,1475.4L1102.4,1474.5L1102.9,1475.4L1109.6,1475.4L1111.3,1476.8L1118.2,1476.8L1119.6,1474.5L1123.0,1474.0L1123.8,1470.4L1127.1,1470.4L1127.7,1471.8L1131.3,1471.8L1132.1,1475.4L1137.4,1475.4L1138.3,1476.8L1139.1,1476.8L1141.0,1475.4L1146.6,1475.4L1148.6,1476.8L1149.9,1476.8L1152.2,1475.4L1156.3,1475.4L1157.2,1473.1L1159.1,1473.7L1161.4,1472.6L1164.7,1472.6L1166.1,1474.5L1168.3,1475.9L1169.7,1476.8L1172.2,1476.8L1174.4,1475.9L1178.1,1475.4L1180.0,1475.9L1180.0,1475.9L1181.4,1476.8L1189.7,1476.8L1192.5,1475.1L1196.7,1474.0L1200.0,1475.1L1202.3,1476.8L1217.6,1476.8L1220.3,1475.4L1225.9,1474.0L1227.9,1475.4L1231.5,1475.4L1232.9,1476.8L1239.3,1476.8L1241.2,1475.4L1244.0,1474.0L1247.3,1474.0L1248.5,1475.4L1260.7,1475.4L1262.6,1476.8L1284.3,1476.8L1287.1,1475.4L1294.1,1475.4L1296.9,1474.5L1299.7,1474.0L1301.6,1469.0L1303.3,1467.6L1305.8,1469.8L1308.0,1470.4L1309.4,1473.1L1310.2,1476.8L1315.0,1476.8L1315.8,1473.1L1323.3,1473.1L1324.7,1476.8L1332.2,1476.8L1333.6,1475.4L1340.8,1475.4L1341.9,1476.8L1345.6,1476.8L1347.5,1475.4L1362.3,1475.4L1364.2,1476.8L1374.8,1476.8L1376.7,1475.4L1383.1,1475.4L1384.5,1476.8L1385.4,1475.4L1387.3,1474.0L1392.0,1474.0L1393.7,1475.4L1395.7,1476.8L1402.6,1476.8L1404.8,1475.4L1409.6,1475.4L1411.0,1474.0L1423.5,1474.0L1424.9,1475.4L1426.3,1474.0L1428.2,1475.4L1434.6,1475.4L1436.0,1474.0L1443.0,1474.0L1444.3,1475.4L1445.2,1474.0L1449.9,1474.0L1451.3,1475.4L1454.1,1475.9L1454.9,1476.8L1456.9,1476.8L1459.1,1475.4L1461.6,1474.0L1464.4,1472.9L1466.6,1474.0L1469.4,1474.5L1471.6,1475.9L1472.7,1476.8L1478.3,1476.8L1480.5,1475.4L1484.7,1475.4L1486.1,1474.0L1488.9,1475.1L1493.0,1475.4L1494.4,1476.8L1495.8,1476.8L1497.2,1475.4L1498.6,1472.9L1503.3,1472.9L1504.7,1475.4L1507.0,1476.8L1508.3,1476.8L1510.3,1475.4L1513.9,1475.4L1514.7,1474.0L1516.7,1474.0L1517.5,1475.4L1520.0,1475.4L1520.6,1474.0L1522.3,1474.0L1523.1,1475.4L1525.0,1474.5L1526.4,1473.7L1527.8,1475.1L1532.8,1475.4L1534.2,1476.8L1544.5,1476.8L1545.9,1475.4L1552.3,1475.4L1553.7,1476.8L1569.6,1476.8L1571.8,1475.4L1577.4,1475.4L1578.5,1474.0L1579.6,1475.4L1582.1,1474.5L1584.0,1472.9L1586.3,1474.0L1591.3,1474.0L1593.2,1475.9L1594.1,1476.8L1598.8,1476.8L1600.7,1475.4L1608.0,1475.4L1609.9,1476.8L1611.9,1476.8L1613.5,1475.4L1620.2,1475.4L1621.9,1476.8L1694.8,1476.8L1697.6,1473.7L1701.7,1471.8L1705.1,1473.1L1707.9,1474.8L1711.5,1476.8L1713.4,1476.8L1717.0,1475.1L1721.2,1474.0L1724.0,1475.1L1726.8,1474.0L1729.6,1474.8L1732.9,1473.7L1736.5,1474.5L1740.7,1473.4L1744.9,1473.7L1749.0,1472.9L1753.2,1474.3L1756.0,1475.1L1758.8,1476.8L1771.3,1476.8L1774.6,1473.1L1778.3,1469.8L1780.2,1467.6L1782.4,1466.7L1784.7,1465.4L1786.6,1464.8L1788.6,1469.0L1790.2,1470.4L1791.6,1473.7L1794.1,1472.6L1796.9,1474.0L1799.1,1473.7L1801.9,1470.9L1804.1,1467.6L1806.1,1464.2L1808.9,1460.6L1811.7,1461.5L1814.4,1459.2L1816.4,1455.1L1818.1,1457.0L1820.0,1457.8L1821.9,1453.7L1823.6,1448.7L1825.6,1448.1L1827.5,1445.3L1829.2,1435.6L1830.6,1433.6L1832.0,1435.6L1833.1,1431.4L1834.2,1425.3L1835.3,1431.4L1837.0,1437.0L1838.6,1442.5L1840.3,1449.5L1842.3,1457.8L1844.2,1463.4L1845.9,1465.4L1847.8,1459.2L1849.2,1455.1L1850.9,1453.7L1852.6,1431.4L1854.2,1406.4L1856.2,1386.9L1858.1,1373.0L1859.5,1366.0L1860.9,1370.2L1862.0,1384.1L1863.1,1402.2L1864.5,1403.6L1865.9,1416.1L1867.3,1423.1L1868.7,1434.2L1870.1,1445.3L1872.0,1446.7L1873.1,1456.4L1874.3,1467.6L1876.5,1470.4L1878.4,1473.1L1879.8,1475.4L1882.1,1475.4L1884.0,1472.6L1886.8,1470.4L1888.7,1469.0L1891.5,1470.4L1894.3,1471.8L1896.5,1473.1L1898.7,1472.6L1901.0,1474.0L1903.5,1475.1L1909.0,1475.4L1913.2,1475.9L1916.0,1476.8L1929.4,1476.8L1931.3,1475.4L1936.9,1475.4L1938.3,1476.8L1946.1,1476.8L1948.0,1475.4L1952.7,1475.4L1954.4,1476.8L1962.7,1476.8L1964.1,1475.4L1971.1,1475.4L1972.2,1476.8L1984.2,1476.8L1987.0,1474.8L1990.6,1474.0L1993.9,1474.8L1996.7,1476.8L2009.2,1476.8L2012.0,1475.4L2015.6,1474.8L2017.6,1474.0L2020.3,1475.1L2023.1,1475.4L2025.1,1475.9L2027.3,1474.8L2031.5,1473.7L2035.7,1473.7L2039.0,1474.8L2041.2,1475.4L2049.6,1475.4L2050.4,1476.8L2135.1,1476.8Z" fill="#FF3030"/>
<line class="bl" x1="703.8" x2="2135.1" y1="1476.8" y2="1476.8"/>
<text x="431.60" y="1417.55" font-size="36.79" fill="#1A1A1A" text-anchor="middle" textLength="365.87" lengthAdjust="spacingAndGlyphs">cKO Dlk1+ Reticular</text>
<line class="tk" x1="148.6" x2="160" y1="1476.8" y2="1476.8"/>
<line class="tk" x1="148.6" x2="160" y1="1432.7" y2="1432.7"/>
<line class="tk" x1="148.6" x2="160" y1="1388.6" y2="1388.6"/>
<line class="tk" x1="148.6" x2="160" y1="1344.5" y2="1344.5"/>
<path d="M703.8,1636.6L1253.7,1636.6L1254.0,1631.8L1262.4,1631.8L1262.6,1636.6L1266.8,1636.6L1268.5,1631.8L1274.6,1631.8L1276.3,1636.6L1295.8,1636.6L1296.3,1627.7L1299.1,1624.1L1301.9,1622.1L1304.4,1622.9L1306.6,1626.3L1308.8,1627.7L1310.8,1631.3L1312.7,1632.4L1313.3,1636.6L1795.5,1636.6L1796.1,1631.6L1803.3,1631.6L1804.1,1636.6L1808.0,1636.6L1810.3,1626.0L1813.0,1621.3L1815.8,1616.8L1820.8,1616.8L1821.9,1599.6L1823.6,1596.8L1825.0,1591.8L1826.1,1601.0L1827.5,1595.4L1828.6,1592.6L1829.7,1601.0L1831.1,1596.8L1832.5,1588.4L1833.9,1591.2L1835.6,1577.9L1837.0,1582.9L1838.1,1591.2L1839.5,1591.8L1840.9,1605.1L1842.3,1617.7L1843.7,1631.6L1844.2,1636.6L1847.3,1636.6L1848.7,1621.8L1850.1,1621.3L1851.4,1609.3L1853.7,1596.8L1855.6,1577.3L1857.0,1555.0L1858.1,1530.0L1859.2,1511.9L1860.3,1507.2L1861.5,1511.9L1862.6,1516.1L1864.5,1516.6L1865.4,1535.6L1866.7,1560.6L1868.7,1577.3L1870.6,1591.2L1872.6,1606.5L1874.0,1607.4L1875.1,1621.8L1875.9,1631.6L1879.8,1631.6L1880.7,1627.4L1881.8,1631.6L1887.6,1631.6L1888.7,1635.7L1889.0,1636.6L1892.6,1636.6L1895.1,1631.6L1897.1,1627.4L1899.3,1626.8L1901.5,1631.6L1903.8,1633.0L1904.9,1636.6L1973.0,1636.6L1973.6,1631.6L1980.8,1631.6L1981.9,1636.6L1989.7,1636.6L1992.0,1631.6L1998.6,1631.6L2000.0,1636.6L2135.1,1636.6Z" fill="#B23AEE"/>
<line class="bl" x1="703.8" x2="2135.1" y1="1636.6" y2="1636.6"/>
<text x="431.60" y="1577.37" font-size="36.79" fill="#1A1A1A" text-anchor="middle" textLength="490.60" lengthAdjust="spacingAndGlyphs">WT Fabp4+ Pre-Adipocytes</text>
<line class="tk" x1="148.6" x2="160" y1="1636.6" y2="1636.6"/>
<line class="tk" x1="148.6" x2="160" y1="1592.5" y2="1592.5"/>
<line class="tk" x1="148.6" x2="160" y1="1548.4" y2="1548.4"/>
<line class="tk" x1="148.6" x2="160" y1="1504.4" y2="1504.4"/>
<path d="M703.8,1796.4L850.8,1796.4L852.5,1790.3L859.2,1790.3L860.3,1796.4L870.6,1796.4L871.7,1790.3L878.9,1790.3L880.3,1796.4L1199.5,1796.4L1201.4,1790.3L1207.3,1790.3L1208.9,1796.4L1221.7,1796.4L1223.1,1790.3L1230.9,1790.3L1231.8,1796.4L1258.7,1796.4L1259.3,1790.3L1265.7,1790.3L1266.3,1784.2L1267.4,1784.2L1267.9,1790.3L1269.0,1784.2L1274.6,1784.2L1275.2,1790.3L1276.0,1784.2L1277.4,1784.2L1277.9,1790.3L1283.5,1790.3L1286.0,1796.4L1344.2,1796.4L1345.8,1790.3L1353.4,1790.3L1354.2,1796.4L1359.8,1796.4L1360.3,1784.2L1362.8,1784.2L1364.2,1777.8L1365.3,1771.6L1367.5,1771.6L1368.4,1765.2L1368.9,1777.8L1370.9,1777.8L1372.6,1790.3L1375.9,1790.3L1376.7,1796.4L1386.7,1796.4L1387.3,1790.3L1390.1,1790.3L1391.5,1784.2L1395.7,1790.3L1398.4,1790.3L1399.3,1796.4L1399.8,1796.4L1402.6,1790.3L1405.4,1784.2L1406.5,1784.2L1407.1,1777.8L1408.5,1777.8L1409.0,1784.2L1411.0,1784.2L1411.5,1777.8L1412.9,1777.8L1413.5,1784.2L1414.3,1784.2L1415.1,1790.3L1418.7,1790.3L1421.5,1796.4L1424.9,1796.4L1427.1,1790.3L1428.5,1784.2L1433.8,1784.2L1435.4,1790.3L1437.1,1796.4L1464.4,1796.4L1464.9,1790.3L1472.7,1790.3L1473.3,1796.4L1473.8,1796.4L1475.5,1790.3L1477.7,1790.3L1479.1,1784.2L1480.5,1784.2L1482.7,1790.3L1486.6,1790.3L1487.2,1796.4L1489.4,1796.4L1491.1,1790.3L1492.2,1790.3L1494.4,1784.2L1497.8,1784.2L1498.6,1790.3L1499.4,1784.2L1500.6,1784.2L1501.1,1790.3L1502.2,1790.3L1504.2,1784.2L1514.5,1784.2L1515.3,1790.3L1519.5,1790.3L1520.0,1784.2L1520.9,1784.2L1521.4,1790.3L1527.0,1790.3L1528.7,1796.4L1555.7,1796.4L1556.5,1790.3L1559.0,1784.2L1563.4,1784.2L1566.2,1790.3L1567.3,1796.4L1567.9,1796.4L1569.6,1790.3L1586.3,1790.3L1586.8,1796.4L1602.4,1796.4L1605.7,1790.3L1608.5,1784.2L1612.7,1784.2L1614.1,1790.3L1615.5,1790.3L1616.9,1796.4L1673.9,1796.4L1674.7,1790.3L1679.5,1790.3L1680.3,1784.2L1683.1,1784.2L1683.7,1790.3L1687.8,1790.3L1688.7,1796.4L1704.0,1796.4L1706.7,1791.7L1709.0,1790.3L1709.5,1784.2L1711.8,1784.2L1712.3,1778.0L1713.4,1778.0L1714.8,1784.2L1716.2,1778.0L1717.3,1778.0L1718.4,1784.2L1720.1,1785.3L1721.8,1790.3L1723.4,1790.8L1724.6,1796.4L1725.4,1796.4L1726.8,1790.3L1729.0,1784.2L1732.9,1784.2L1734.0,1790.3L1735.1,1790.8L1736.2,1796.4L1739.9,1796.4L1740.4,1790.3L1741.5,1784.7L1743.5,1784.2L1745.7,1778.0L1747.9,1778.0L1750.7,1784.2L1753.2,1790.3L1759.6,1790.3L1762.4,1796.4L1780.2,1796.4L1782.4,1790.3L1785.2,1790.3L1786.6,1778.0L1789.4,1778.0L1790.2,1784.2L1793.0,1784.2L1794.1,1778.6L1795.2,1784.2L1799.1,1784.2L1800.8,1790.3L1803.0,1790.3L1804.7,1796.4L1808.0,1796.4L1809.1,1790.3L1811.7,1790.3L1812.5,1784.2L1815.8,1784.2L1816.7,1779.1L1817.5,1784.2L1818.6,1781.9L1820.3,1778.6L1821.4,1784.2L1823.6,1784.2L1824.7,1778.0L1825.8,1772.2L1827.0,1778.0L1828.6,1778.0L1829.7,1770.8L1831.1,1765.2L1832.2,1771.4L1837.0,1771.4L1839.5,1778.0L1841.4,1778.0L1842.5,1784.2L1846.4,1784.2L1847.3,1778.0L1849.2,1778.0L1850.3,1768.0L1851.4,1759.7L1852.6,1763.8L1853.7,1770.8L1855.3,1762.5L1856.5,1749.9L1857.6,1737.4L1858.7,1726.3L1859.5,1716.5L1860.6,1720.7L1861.5,1710.1L1862.3,1709.0L1863.1,1709.6L1864.2,1720.7L1865.1,1723.5L1866.2,1729.1L1867.6,1748.5L1869.3,1759.7L1870.9,1766.6L1872.0,1772.2L1873.1,1778.0L1874.3,1787.5L1875.9,1796.4L1892.6,1796.4L1894.3,1790.3L1895.4,1787.5L1896.5,1778.0L1900.4,1778.0L1901.5,1781.9L1903.2,1784.2L1904.3,1790.3L1905.4,1796.4L1906.0,1796.4L1907.7,1790.3L1909.3,1788.9L1910.4,1784.2L1912.7,1784.2L1913.5,1778.6L1914.3,1784.2L1916.6,1784.2L1917.4,1778.0L1918.2,1784.2L1924.3,1784.2L1926.0,1790.3L1928.5,1790.3L1929.9,1796.4L2055.7,1796.4L2058.5,1790.3L2060.7,1788.9L2064.0,1784.2L2064.9,1784.2L2065.1,1778.0L2065.7,1784.2L2068.5,1784.2L2069.6,1790.3L2069.9,1796.4L2135.1,1796.4Z" fill="#B23AEE"/>
<line class="bl" x1="703.8" x2="2135.1" y1="1796.4" y2="1796.4"/>
<text x="431.60" y="1737.19" font-size="36.79" fill="#1A1A1A" text-anchor="middle" textLength="504.70" lengthAdjust="spacingAndGlyphs">cKO Fabp4+ Pre-Adipocytes</text>
<line class="tk" x1="148.6" x2="160" y1="1796.4" y2="1796.4"/>
<line class="tk" x1="148.6" x2="160" y1="1752.3" y2="1752.3"/>
<line class="tk" x1="148.6" x2="160" y1="1708.3" y2="1708.3"/>
<line class="tk" x1="148.6" x2="160" y1="1664.2" y2="1664.2"/>
<line class="ax" x1="160.1" x2="160.1" y1="45.68" y2="1803.7"/>
<text x="78.90" y="931.90" font-size="46.52" fill="#000" text-anchor="middle" textLength="406.73" lengthAdjust="spacingAndGlyphs" transform="rotate(-90 78.90 931.90)">Normalized signal</text>
<text x="127.60" y="924.70" font-size="46.52" fill="#000" text-anchor="middle" textLength="313.57" lengthAdjust="spacingAndGlyphs" transform="rotate(-90 127.60 924.70)">(range 0 - 33)</text>
<line class="ax" x1="160.1" x2="160.1" y1="1860.7" y2="2036.5"/>
<text x="79.10" y="1948.50" font-size="46.52" fill="#000" text-anchor="middle" textLength="132.99" lengthAdjust="spacingAndGlyphs" transform="rotate(-90 79.10 1948.50)">Peaks</text>
<rect x="1797.8" y="1939.8" width="87.2" height="17.9" fill="#696969"/>
<line class="ax" x1="703.8" x2="2135.1" y1="2036.5" y2="2036.5"/>
<line class="tk" x1="763.1" x2="763.1" y1="2036.5" y2="2048.0"/>
<text x="763.40" y="2083.10" font-size="37.22" fill="#4D4D4D" text-anchor="middle" textLength="184.78" lengthAdjust="spacingAndGlyphs">77755000</text>
<line class="tk" x1="1190.7" x2="1190.7" y1="2036.5" y2="2048.0"/>
<text x="1191.00" y="2083.10" font-size="37.22" fill="#4D4D4D" text-anchor="middle" textLength="184.78" lengthAdjust="spacingAndGlyphs">77760000</text>
<line class="tk" x1="1618.3" x2="1618.3" y1="2036.5" y2="2048.0"/>
<text x="1618.60" y="2083.10" font-size="37.22" fill="#4D4D4D" text-anchor="middle" textLength="184.78" lengthAdjust="spacingAndGlyphs">77765000</text>
<line class="tk" x1="2045.9" x2="2045.9" y1="2036.5" y2="2048.0"/>
<text x="2046.20" y="2083.10" font-size="37.22" fill="#4D4D4D" text-anchor="middle" textLength="184.78" lengthAdjust="spacingAndGlyphs">77770000</text>
<line class="ax" x1="160.1" x2="160.1" y1="2135.9" y2="2334.9"/>
<text x="79.10" y="2235.40" font-size="46.52" fill="#000" text-anchor="middle" textLength="203.55" lengthAdjust="spacingAndGlyphs" transform="rotate(-90 79.10 2235.40)">WT Links</text>
<path d="M1841.5,2145.0 Q1848.8,2506.0 1856.1,2145.0" fill="none" stroke="#6433FF" stroke-width="4.3"/>
<line x1="703.8" x2="2135.1" y1="2145.0" y2="2145.0" stroke="#BEBEBE" stroke-width="3.6"/>
<text x="2202.40" y="2181.00" font-size="46.52" fill="#000" text-anchor="start" textLength="122.91" lengthAdjust="spacingAndGlyphs">score</text>
<defs><linearGradient id="gWT" x1="0" y1="0" x2="0" y2="1"><stop offset="0.000" stop-color="#0000FF"/><stop offset="0.125" stop-color="#5932FF"/><stop offset="0.250" stop-color="#7E52FF"/><stop offset="0.375" stop-color="#9B6FFF"/><stop offset="0.500" stop-color="#B38BFF"/><stop offset="0.625" stop-color="#C8A8FF"/><stop offset="0.750" stop-color="#DCC4FF"/><stop offset="0.875" stop-color="#EEE2FF"/><stop offset="1.000" stop-color="#FFFFFF"/></linearGradient></defs>
<rect x="2203.3" y="2208.9" width="23.6" height="117.2" fill="url(#gWT)"/>
<path d="M2203.3,2209.3h4.7M2226.9,2209.3h-4.7" stroke="#fff" stroke-width="1.6"/>
<text x="2249.30" y="2222.60" font-size="37.22" fill="#000" text-anchor="start" textLength="80.83" lengthAdjust="spacingAndGlyphs">1.00</text>
<path d="M2203.3,2238.6h4.7M2226.9,2238.6h-4.7" stroke="#fff" stroke-width="1.6"/>
<text x="2249.30" y="2251.93" font-size="37.22" fill="#000" text-anchor="start" textLength="80.83" lengthAdjust="spacingAndGlyphs">0.75</text>
<path d="M2203.3,2268.0h4.7M2226.9,2268.0h-4.7" stroke="#fff" stroke-width="1.6"/>
<text x="2249.30" y="2281.26" font-size="37.22" fill="#000" text-anchor="start" textLength="80.83" lengthAdjust="spacingAndGlyphs">0.50</text>
<path d="M2203.3,2297.3h4.7M2226.9,2297.3h-4.7" stroke="#fff" stroke-width="1.6"/>
<text x="2249.30" y="2310.59" font-size="37.22" fill="#000" text-anchor="start" textLength="80.83" lengthAdjust="spacingAndGlyphs">0.25</text>
<text x="2249.30" y="2339.92" font-size="37.22" fill="#000" text-anchor="start" textLength="80.83" lengthAdjust="spacingAndGlyphs">0.00</text>
<line class="ax" x1="160.1" x2="160.1" y1="2392.1" y2="2591.1"/>
<text x="79.10" y="2491.60" font-size="46.52" fill="#000" text-anchor="middle" textLength="196.44" lengthAdjust="spacingAndGlyphs" transform="rotate(-90 79.10 2491.60)">KO Links</text>
<path d="M1841.5,2401.2 Q1848.8,2762.2 1856.1,2401.2" fill="none" stroke="#FF6240" stroke-width="4.3"/>
<line x1="703.8" x2="2135.1" y1="2401.2" y2="2401.2" stroke="#BEBEBE" stroke-width="3.6"/>
<text x="2202.40" y="2437.20" font-size="46.52" fill="#000" text-anchor="start" textLength="122.91" lengthAdjust="spacingAndGlyphs">score</text>
<defs><linearGradient id="gKO" x1="0" y1="0" x2="0" y2="1"><stop offset="0.000" stop-color="#FF0000"/><stop offset="0.125" stop-color="#FF4628"/><stop offset="0.250" stop-color="#FF6846"/><stop offset="0.375" stop-color="#FF8464"/><stop offset="0.500" stop-color="#FF9E81"/><stop offset="0.625" stop-color="#FFB7A0"/><stop offset="0.750" stop-color="#FFCFBF"/><stop offset="0.875" stop-color="#FFE7DE"/><stop offset="1.000" stop-color="#FFFFFF"/></linearGradient></defs>
<rect x="2203.3" y="2465.1" width="23.6" height="117.2" fill="url(#gKO)"/>
<path d="M2203.3,2465.5h4.7M2226.9,2465.5h-4.7" stroke="#fff" stroke-width="1.6"/>
<text x="2249.30" y="2478.80" font-size="37.22" fill="#000" text-anchor="start" textLength="80.83" lengthAdjust="spacingAndGlyphs">1.00</text>
<path d="M2203.3,2494.8h4.7M2226.9,2494.8h-4.7" stroke="#fff" stroke-width="1.6"/>
<text x="2249.30" y="2508.13" font-size="37.22" fill="#000" text-anchor="start" textLength="80.83" lengthAdjust="spacingAndGlyphs">0.75</text>
<path d="M2203.3,2524.2h4.7M2226.9,2524.2h-4.7" stroke="#fff" stroke-width="1.6"/>
<text x="2249.30" y="2537.46" font-size="37.22" fill="#000" text-anchor="start" textLength="80.83" lengthAdjust="spacingAndGlyphs">0.50</text>
<path d="M2203.3,2553.5h4.7M2226.9,2553.5h-4.7" stroke="#fff" stroke-width="1.6"/>
<text x="2249.30" y="2566.79" font-size="37.22" fill="#000" text-anchor="start" textLength="80.83" lengthAdjust="spacingAndGlyphs">0.25</text>
<text x="2249.30" y="2596.12" font-size="37.22" fill="#000" text-anchor="start" textLength="80.83" lengthAdjust="spacingAndGlyphs">0.00</text>
<line class="ax" x1="160.1" x2="160.1" y1="2648" y2="2847"/>
<text x="79.10" y="2747.70" font-size="46.52" fill="#000" text-anchor="middle" textLength="143.38" lengthAdjust="spacingAndGlyphs" transform="rotate(-90 79.10 2747.70)">Genes</text>
<line x1="982.1" x2="1855.9" y1="2802.1" y2="2802.1" stroke="#00008B" stroke-width="4.4"/>
<path d="M990.8,2793.4L982.1,2802.1L990.8,2810.8M1016.8,2793.4L1008.1,2802.1L1016.8,2810.8M1042.9,2793.4L1034.2,2802.1L1042.9,2810.8M1068.9,2793.4L1060.2,2802.1L1068.9,2810.8M1094.9,2793.4L1086.2,2802.1L1094.9,2810.8M1120.9,2793.4L1112.2,2802.1L1120.9,2810.8M1147.0,2793.4L1138.3,2802.1L1147.0,2810.8M1173.0,2793.4L1164.3,2802.1L1173.0,2810.8M1199.0,2793.4L1190.3,2802.1L1199.0,2810.8M1225.0,2793.4L1216.3,2802.1L1225.0,2810.8M1251.1,2793.4L1242.4,2802.1L1251.1,2810.8M1277.1,2793.4L1268.4,2802.1L1277.1,2810.8M1303.1,2793.4L1294.4,2802.1L1303.1,2810.8M1329.2,2793.4L1320.5,2802.1L1329.2,2810.8M1355.2,2793.4L1346.5,2802.1L1355.2,2810.8M1381.2,2793.4L1372.5,2802.1L1381.2,2810.8M1407.2,2793.4L1398.5,2802.1L1407.2,2810.8M1433.3,2793.4L1424.6,2802.1L1433.3,2810.8M1459.3,2793.4L1450.6,2802.1L1459.3,2810.8M1485.3,2793.4L1476.6,2802.1L1485.3,2810.8M1511.3,2793.4L1502.6,2802.1L1511.3,2810.8M1537.4,2793.4L1528.7,2802.1L1537.4,2810.8M1563.4,2793.4L1554.7,2802.1L1563.4,2810.8M1589.4,2793.4L1580.7,2802.1L1589.4,2810.8M1615.4,2793.4L1606.7,2802.1L1615.4,2810.8M1641.5,2793.4L1632.8,2802.1L1641.5,2810.8M1667.5,2793.4L1658.8,2802.1L1667.5,2810.8M1693.5,2793.4L1684.8,2802.1L1693.5,2810.8M1719.6,2793.4L1710.9,2802.1L1719.6,2810.8M1745.6,2793.4L1736.9,2802.1L1745.6,2810.8M1771.6,2793.4L1762.9,2802.1L1771.6,2810.8M1797.6,2793.4L1788.9,2802.1L1797.6,2810.8M1823.7,2793.4L1815.0,2802.1L1823.7,2810.8M1849.7,2793.4L1841.0,2802.1L1849.7,2810.8" fill="none" stroke="#00008B" stroke-width="4.4" stroke-linejoin="miter" stroke-linecap="butt"/>
<rect x="982.7" y="2788.8" width="15.7" height="26.6" fill="#00008B"/>
<rect x="1059.9" y="2788.8" width="3.9" height="26.6" fill="#00008B"/>
<rect x="1142.5" y="2788.8" width="6.1" height="26.6" fill="#00008B"/>
<rect x="1231" y="2788.8" width="4.7" height="26.6" fill="#00008B"/>
<rect x="1268.3" y="2788.8" width="10.3" height="26.6" fill="#00008B"/>
<rect x="1360.1" y="2788.8" width="11.1" height="26.6" fill="#00008B"/>
<rect x="1539.1" y="2788.8" width="11.1" height="26.6" fill="#00008B"/>
<rect x="1777.9" y="2788.8" width="14.7" height="26.6" fill="#00008B"/>
<rect x="1851.1" y="2788.8" width="4.9" height="26.6" fill="#00008B"/>
<text x="1418.80" y="2741.00" font-size="30.04" fill="#000" text-anchor="middle" textLength="92.48" lengthAdjust="spacingAndGlyphs">Haus1</text>
<line class="ax" x1="703.8" x2="2135.1" y1="2846.9" y2="2846.9"/>
<line class="tk" x1="763.1" x2="763.1" y1="2846.9" y2="2858.4"/>
<text x="763.40" y="2893.50" font-size="37.22" fill="#4D4D4D" text-anchor="middle" textLength="184.78" lengthAdjust="spacingAndGlyphs">77755000</text>
<line class="tk" x1="1190.7" x2="1190.7" y1="2846.9" y2="2858.4"/>
<text x="1191.00" y="2893.50" font-size="37.22" fill="#4D4D4D" text-anchor="middle" textLength="184.78" lengthAdjust="spacingAndGlyphs">77760000</text>
<line class="tk" x1="1618.3" x2="1618.3" y1="2846.9" y2="2858.4"/>
<text x="1618.60" y="2893.50" font-size="37.22" fill="#4D4D4D" text-anchor="middle" textLength="184.78" lengthAdjust="spacingAndGlyphs">77765000</text>
<line class="tk" x1="2045.9" x2="2045.9" y1="2846.9" y2="2858.4"/>
<text x="2046.20" y="2893.50" font-size="37.22" fill="#4D4D4D" text-anchor="middle" textLength="184.78" lengthAdjust="spacingAndGlyphs">77770000</text>
<text x="1419.20" y="2944.30" font-size="46.52" fill="#000" text-anchor="middle" textLength="431.65" lengthAdjust="spacingAndGlyphs">chr18 position (bp)</text>
</svg></body></html>
